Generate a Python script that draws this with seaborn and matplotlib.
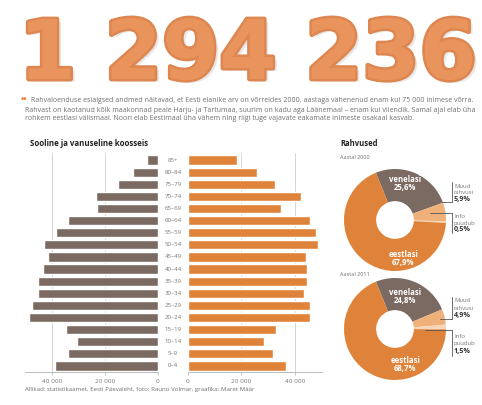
import numpy as np
import pandas as pd
import seaborn as sns
import matplotlib
matplotlib.use("Agg")
import matplotlib.pyplot as plt
from matplotlib.lines import Line2D
import matplotlib.patheffects as pe
import matplotlib.transforms as mtrans

# ---------------- data ----------------
ages = ["85+", "80–84", "75–79", "70–74", "65–69", "60–64", "55–59", "50–54", "45–49",
        "40–44", "35–39", "30–34", "25–29", "20–24", "15–19", "10–14", "5–9", "0–4"]
men = [4300, 9500, 15200, 23400, 23100, 33800, 38600, 42900, 41600,
       43500, 45400, 45200, 47400, 48700, 34800, 30400, 33800, 38900]
women = [18400, 25900, 32500, 42100, 34800, 45800, 47700, 48500, 44100,
         44600, 44500, 43500, 45500, 45700, 32900, 28300, 31900, 36600]
x_ticks = [0, 20000, 40000]
x_ticklabels = ["0", "20 000", "40 000"]

nat_names = ["venelasi", "Muud rahvusi", "Info puudub", "eestlasi"]
nat_2000 = [25.6, 5.9, 0.5, 67.9]
nat_2011 = [24.8, 4.9, 1.5, 68.7]
nat_2000_txt = ["25,6%", "5,9%", "0,5%", "67,9%"]
nat_2011_txt = ["24,8%", "4,9%", "1,5%", "68,7%"]

title = "1 294 236"
para = [
    "Rahvaloenduse esialgsed andmed näitavad, et Eesti elanike arv on võrreldes 2000. aastaga vähenenud enam kui 75 000 inimese võrra.",
    "Rahvast on kaotanud kõik maakonnad peale Harju- ja Tartumaa, suurim on kadu aga Läänemaal – enam kui viiendik. Samal ajal elab üha",
    "rohkem eestlasi välismaal. Noori elab Eestimaal üha vähem ning riigi tuge vajavate eakamate inimeste osakaal kasvab.",
]
source = "Allikad: statistikaamet, Eesti Päevaleht, foto: Rauno Volmar, graafika: Maret Määr"

# ---------------- style ----------------
GRAY = "#7A6A62"
ORANGE = "#E0833A"
LIGHT = "#EFB07A"
PALE = "#F6D6B8"
TXT = "#707070"

W, H = 482, 405
sns.set_theme(style="white")
plt.rcParams["font.family"] = ["Open Sans", "DejaVu Sans"]

fig = plt.figure(figsize=(W / 100, H / 100), dpi=100)
fig.patch.set_facecolor("white")
renderer = fig.canvas.get_renderer()


def fx(x):
    return x / W


def fy(y):
    return 1 - y / H


def fit(x, y, s, width, base=10, **kw):
    t = fig.text(fx(x), fy(y), s, fontsize=base, **kw)
    bb = t.get_window_extent(renderer)
    t.set_fontsize(base * width / bb.width)
    return t


# ---------------- title ----------------
fit(19, 79, title, 458, base=60, family=["DejaVu Sans"], fontweight="bold",
    color="#E8945C", va="baseline",
    path_effects=[pe.withSimplePatchShadow(offset=(3, -2), shadow_rgbFace="#bbbbbb", alpha=0.35),
                  pe.Stroke(linewidth=3.5, foreground="#DD8650"),
                  pe.Normal()])

# ---------------- paragraph ----------------
fig.text(fx(21), fy(100), "••", color=ORANGE, fontsize=6.5, fontweight="bold", va="center")
t2 = fit(25, 110, para[1], 447, color=TXT, va="center")
fs = t2.get_fontsize()
fig.text(fx(31), fy(100), para[0], color=TXT, va="center", fontsize=fs)
fig.text(fx(25), fy(119), para[2], color=TXT, va="center", fontsize=fs)

# ---------------- section titles ----------------
fit(30, 143, "Sooline ja vanuseline koosseis", 118, color="#222222", fontweight="bold", va="center")
fit(340, 144, "Rahvused", 37, color="#222222", fontweight="bold", va="center")
fit(340, 157, "Aastal 2000", 30, color=TXT, va="center")
fit(340, 275, "Aastal 2011", 30, color=TXT, va="center")
fit(25, 389, source, 229, color=TXT, va="center")

# ---------------- pyramid ----------------
df = pd.DataFrame({"age": ages, "men": men, "women": women})
top, bottom = 153, 372
ax_m = fig.add_axes([fx(25), fy(bottom), 133 / W, (bottom - top) / H])
ax_w = fig.add_axes([fx(188), fy(bottom), 134 / W, (bottom - top) / H])

sns.barplot(data=df, x="men", y="age", orient="h", color=GRAY, width=0.76,
            saturation=1, ax=ax_m, zorder=3)
sns.barplot(data=df, x="women", y="age", orient="h", color=ORANGE, width=0.76,
            saturation=1, ax=ax_w, zorder=3)

for ax, lim in ((ax_m, (50200, 0)), (ax_w, (0, 50100))):
    ax.set_xlim(*lim)
    ax.set_ylim(17.5, -0.58)
    ax.set_facecolor("none")
    for s in ("top", "right", "left"):
        ax.spines[s].set_visible(False)
    ax.spines["bottom"].set_color("#bbbbbb")
    ax.spines["bottom"].set_linewidth(0.7)
    ax.set_yticks([])
    ax.set_xlabel("")
    ax.set_ylabel("")
    ax.set_xticks(x_ticks)
    ax.set_xticklabels(x_ticklabels)
    ax.tick_params(axis="x", labelsize=4.6, labelcolor="#777777", length=2,
                   width=0.6, color="#bbbbbb", pad=3, bottom=True)
    for v in x_ticks[1:]:
        ax.axvline(v, color="#d4d4d4", lw=0.7, zorder=1)

tr = mtrans.blended_transform_factory(fig.transFigure, ax_m.transData)
for i, a in enumerate(ages):
    ax_m.text(fx(173), i, a, transform=tr, ha="center", va="center",
              fontsize=4.4, color="#777777", clip_on=False)

# ---------------- donuts ----------------
R = 51
colors = [GRAY, LIGHT, PALE, ORANGE]


def donut(cx, cy, vals, txts, inner_pos, side):
    ax = fig.add_axes([fx(cx - R), fy(cy + R), 2 * R / W, 2 * R / H])
    ax.pie(vals, colors=colors, startangle=112, counterclock=False,
           wedgeprops=dict(width=0.63, edgecolor="none"), radius=1)
    ax.set_xlim(-1, 1)
    ax.set_ylim(-1, 1)
    ax.set_aspect("equal")
    ax.axis("off")
    (vx, vy), (ex, ey) = inner_pos
    for (px, py), name, pct in (((vx, vy), nat_names[0], txts[0]),
                                ((ex, ey), nat_names[3], txts[3])):
        ax.text(px, py + 0.08, name, color="white", fontweight="bold",
                fontsize=5.6, ha="center", va="center")
        ax.text(px, py - 0.08, pct, color="white", fontweight="bold",
                fontsize=5.6, ha="center", va="center")
    for (lines, y_line, x0, y_end, ys, pct) in side:
        fig.add_artist(Line2D([fx(x0), fx(452)], [fy(y_line), fy(y_line)],
                              color="#555555", lw=0.6))
        fig.add_artist(Line2D([fx(452), fx(452)], [fy(y_line), fy(y_end)],
                              color="#555555", lw=0.6))
        for s, yy in zip(lines, ys[:-1]):
            fig.text(fx(454), fy(yy), s, fontsize=4.2, color="#777777", va="center")
        fig.text(fx(454), fy(ys[-1]), pct, fontsize=5.2, color="#333333",
                 fontweight="bold", va="center")


donut(395, 220, nat_2000, nat_2000_txt,
      [(0.2, 0.72), (0.16, -0.76)],
      [(["Muud", "rahvusi"], 202, 442, 182, [186, 193, 200], nat_2000_txt[1]),
       (["Info", "puudub"], 213, 430, 233, [216, 223, 230], nat_2000_txt[2])])
donut(395, 329, nat_2011, nat_2011_txt,
      [(0.2, 0.63), (0.2, -0.69)],
      [(["Muud", "rahvusi"], 319, 440, 297, [301, 308, 315], nat_2011_txt[1]),
       (["Info", "puudub"], 330, 425, 356, [336, 344, 352], nat_2011_txt[2])])

fig.savefig("out.png", dpi=100, facecolor="white")
